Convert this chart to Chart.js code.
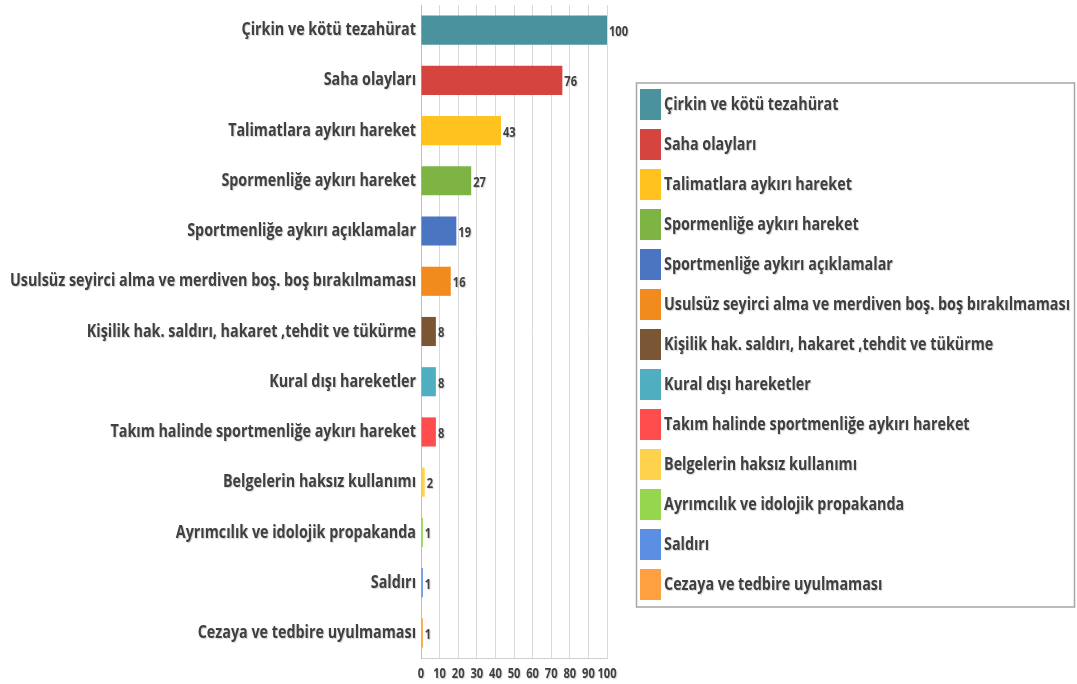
<!DOCTYPE html>
<html><head><meta charset="utf-8">
<script src="https://cdn.jsdelivr.net/npm/chart.js@4.4.1/dist/chart.umd.min.js"></script>
<style>html,body{margin:0;padding:0;background:#fff;overflow:hidden}#wrap{width:1077px;height:684px;position:relative}</style>
</head><body><div id="wrap"><canvas id="c" width="1077" height="684"></canvas></div>
<script>
const categories = [
  "Çirkin ve kötü tezahürat",
  "Saha olayları",
  "Talimatlara aykırı hareket",
  "Spormenliğe aykırı hareket",
  "Sportmenliğe aykırı açıklamalar",
  "Usulsüz seyirci alma ve merdiven boş. boş bırakılmaması",
  "Kişilik hak. saldırı, hakaret ,tehdit ve tükürme",
  "Kural dışı hareketler",
  "Takım halinde sportmenliğe aykırı hareket",
  "Belgelerin haksız kullanımı",
  "Ayrımcılık ve idolojik propakanda",
  "Saldırı",
  "Cezaya ve tedbire uyulmaması"
];
const values = [100, 76, 43, 27, 19, 16, 8, 8, 8, 2, 1, 1, 1];
const barColors = ["#4A939C","#D5443E","#FFC21F","#7DB443","#4A75C0","#F28B1D","#7B5634","#4FAFC0","#FF4C4C","#FFD24D","#95D64D","#5B8FE3","#FFA040"];
const xTickValues = [0, 10, 20, 30, 40, 50, 60, 70, 80, 90, 100];

const FAM = '"Open Sans", "Noto Sans", sans-serif';
const fs = 18;
const valFs = 14;
const mctx = document.createElement('canvas').getContext('2d');
mctx.font = 'bold ' + fs + 'px ' + FAM;
const SX = Math.min(1, 406 / mctx.measureText(categories[5]).width);
const TEXT = '#404040';

const condensedText = {
  id: 'condensedText',
  beforeInit(chart){
    const ctx = chart.ctx;
    const of = ctx.fillText.bind(ctx);
    const om = ctx.measureText.bind(ctx);
    ctx.fillText = function(t, x, y, mw){
      ctx.save();
      if (chart._legendDrawing) x -= 6;
      ctx.shadowColor = 'rgba(0,0,0,0.18)'; ctx.shadowOffsetX = 1; ctx.shadowOffsetY = 1; ctx.shadowBlur = 1;
      ctx.translate(x, y); ctx.scale(SX, 1);
      if (mw === undefined) of(t, 0, 0); else of(t, 0, 0, mw / SX);
      ctx.restore();
    };
    ctx.measureText = function(t){
      const m = om(t);
      return { width: m.width * SX,
        actualBoundingBoxAscent: m.actualBoundingBoxAscent, actualBoundingBoxDescent: m.actualBoundingBoxDescent,
        actualBoundingBoxLeft: m.actualBoundingBoxLeft * SX, actualBoundingBoxRight: m.actualBoundingBoxRight * SX,
        fontBoundingBoxAscent: m.fontBoundingBoxAscent, fontBoundingBoxDescent: m.fontBoundingBoxDescent };
    };
  }
};
const valueLabels = {
  id: 'valueLabels',
  afterDatasetsDraw(chart){
    const ctx = chart.ctx, meta = chart.getDatasetMeta(0);
    ctx.save();
    ctx.font = 'bold ' + valFs + 'px ' + FAM;
    ctx.fillStyle = TEXT; ctx.textAlign = 'left'; ctx.textBaseline = 'middle';
    meta.data.forEach((bar, i) => ctx.fillText(String(values[i]), bar.x + 2, bar.y + 2));
    ctx.restore();
  }
};
const legendFrame = {
  id: 'legendFrame',
  beforeLayout(chart){
    const L = chart.legend;
    if (L && !L._patched) {
      const f = L.fit;
      L.fit = function(){ f.call(this); this.width = 1077 - 607; };
      const d = L.draw;
      L.draw = function(){ chart._legendDrawing = true; try { d.apply(this, arguments); } finally { chart._legendDrawing = false; } };
      L._patched = true;
    }
  },
  afterLayout(chart){
    const L = chart.legend;
    if (L) { L.left = 631; L.width = L.right - L.left; }
  },
  afterDraw(chart){
    const L = chart.legend; if (!L || !L.columnSizes) return;
    const pad = 9;
    const colH = L.columnSizes[0].height;
    const y0 = ((L.top + pad) + (L.bottom - colH)) / 2;
    const ctx = chart.ctx;
    ctx.save();
    ctx.strokeStyle = '#a6a6a6'; ctx.lineWidth = 1.5;
    ctx.strokeRect(636.5, y0 - 6, 438, colH - 9 + 13);
    ctx.restore();
  }
};

new Chart(document.getElementById('c'), {
  type: 'bar',
  data: {
    labels: categories,
    datasets: [{ data: values, backgroundColor: barColors, borderWidth: 0, barPercentage: 0.58, categoryPercentage: 1 }]
  },
  options: {
    indexAxis: 'y',
    responsive: false,
    animation: false,
    devicePixelRatio: 1,
    layout: { padding: { top: 5, left: 0, right: 0, bottom: 0 } },
    scales: {
      x: {
        min: 0, max: 100,
        afterBuildTicks(s){ s.ticks = xTickValues.map(v => ({ value: v })); },
        afterFit(s){ s.height = 26; },
        grid: { color: '#d9d9d9', lineWidth: 1, drawTicks: false },
        border: { display: true, color: '#d0d0d0' },
        ticks: { color: TEXT, padding: 8, autoSkip: false, maxRotation: 0, minRotation: 0, font: { family: FAM, size: valFs, weight: 'bold' } }
      },
      y: {
        afterFit(s){ s.width = 421; s.paddingTop = 0; s.paddingBottom = 0; },
        grid: { display: false, drawTicks: false },
        border: { display: true, color: '#bfbfbf' },
        ticks: { color: TEXT, padding: 5, font: { family: FAM, size: fs, weight: 'bold' } }
      }
    },
    plugins: {
      tooltip: { enabled: false },
      legend: {
        position: 'right',
        align: 'center',
        onClick: null,
        labels: {
          boxWidth: 21, boxHeight: 31, padding: 9,
          color: TEXT,
          font: { family: FAM, size: fs, weight: 'bold' },
          generateLabels(){
            return categories.map((c, i) => ({ text: c, fillStyle: barColors[i], strokeStyle: barColors[i], lineWidth: 0, hidden: false, index: i, fontColor: TEXT }));
          }
        }
      }
    }
  },
  plugins: [condensedText, valueLabels, legendFrame]
});
</script>
</body></html>
